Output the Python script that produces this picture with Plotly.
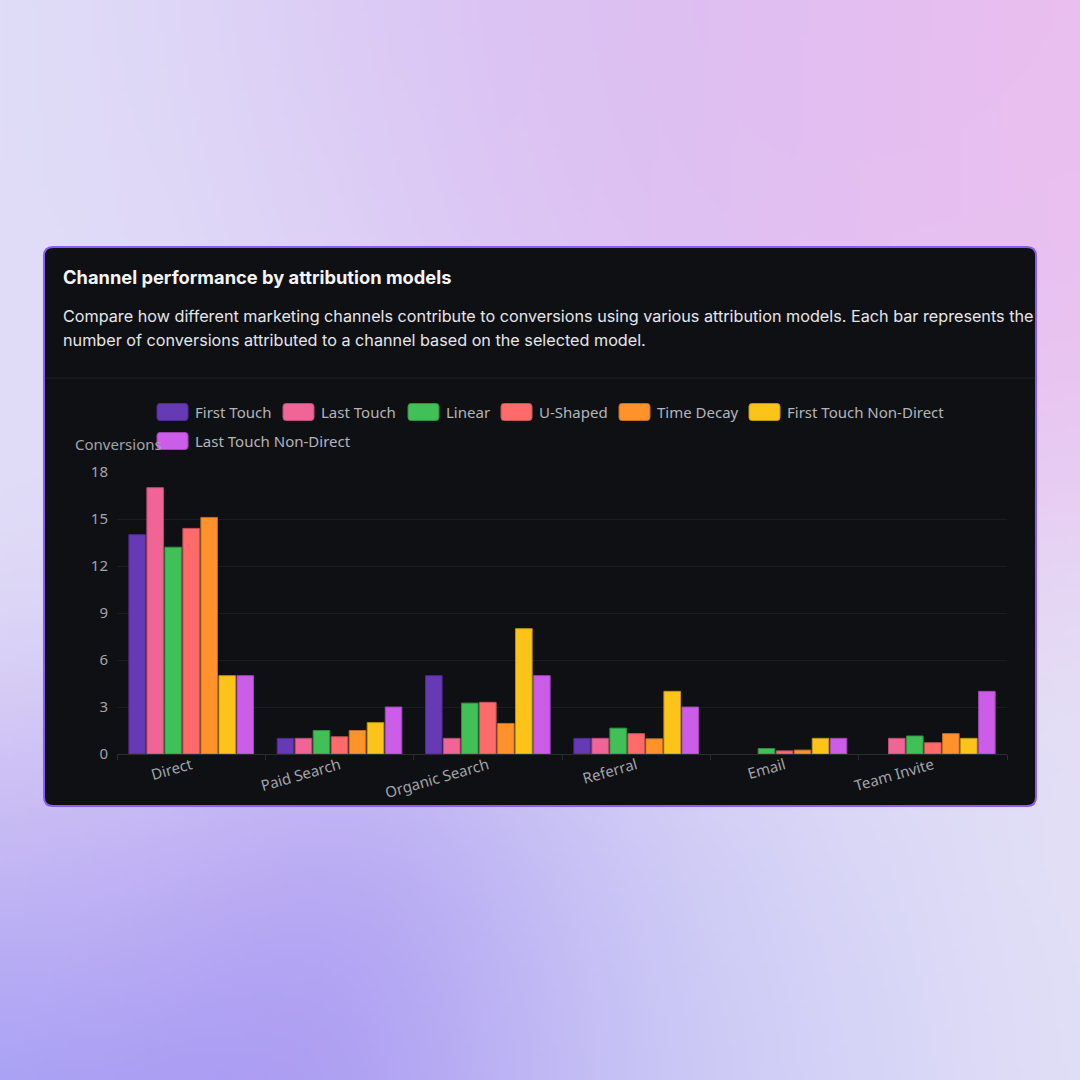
import base64, struct, zlib
import numpy as np
import plotly.graph_objects as go

# ---------------- data ----------------
channels = ["Direct", "Paid Search", "Organic Search", "Referral", "Email", "Team Invite"]
models = ["First Touch", "Last Touch", "Linear", "U-Shaped", "Time Decay",
          "First Touch Non-Direct", "Last Touch Non-Direct"]
first_touch = [14, 1, 5, 1, 0, 0]
last_touch = [17, 1, 1, 1, 0, 1]
linear = [13.2, 1.5, 3.25, 1.65, 0.35, 1.15]
u_shaped = [14.4, 1.1, 3.3, 1.3, 0.2, 0.72]
time_decay = [15.1, 1.5, 1.95, 0.97, 0.25, 1.3]
first_touch_nd = [5, 2, 8, 4, 1, 1]
last_touch_nd = [5, 3, 5, 3, 1, 4]
series = [first_touch, last_touch, linear, u_shaped, time_decay, first_touch_nd, last_touch_nd]
y_ticks = [0, 3, 6, 9, 12, 15, 18]

colors = ["#6639b5", "#f06595", "#40c057", "#ff6b6b", "#ff922b", "#fcc419", "#cc5de8"]
borders = ["#4e2a8c", "#b84c73", "#2f8f41", "#c25252", "#c26f20", "#c09512", "#9c47b1"]

W = H = 1080


def px(x):
    return x / W


def py(y):
    return 1 - y / H


def hex_rgb(c):
    return np.array([int(c[i:i + 2], 16) for i in (1, 3, 5)], float)


# ---------------- background gradient image ----------------
def make_bg(n=216):
    base = hex_rgb("#e3dcf6")
    blobs = [
        ((0, 0), "#e1e4f9", 320), ((560, -20), "#d6b8f3", 300), ((1080, 0), "#efbdee", 300),
        ((1080, 1080), "#e6e4f7", 320), ((0, 1090), "#9598f6", 190),
        ((280, 1110), "#9f86f0", 210), ((660, 1120), "#c2c2f6", 230),
        ((60, 880), "#d6c2f4", 150), ((0, 450), "#e1dcf7", 250),
    ]
    ys, xs = np.mgrid[0:n, 0:n].astype(float)
    xs = (xs + 0.5) * W / n
    ys = (ys + 0.5) * H / n
    w0 = 0.12
    acc = np.ones((n, n, 3)) * base * w0
    wsum = np.ones((n, n)) * w0
    for (cx, cy), c, s in blobs:
        w = np.exp(-((xs - cx) ** 2 + (ys - cy) ** 2) / (2 * s * s))
        acc += w[..., None] * hex_rgb(c)
        wsum += w
    img = (acc / wsum[..., None]).clip(0, 255).astype(np.uint8)
    raw = b"".join(b"\x00" + img[r].tobytes() for r in range(n))

    def chunk(t, d):
        return struct.pack(">I", len(d)) + t + d + struct.pack(">I", zlib.crc32(t + d) & 0xffffffff)

    png = (b"\x89PNG\r\n\x1a\n" + chunk(b"IHDR", struct.pack(">IIBBBBB", n, n, 8, 2, 0, 0, 0))
           + chunk(b"IDAT", zlib.compress(raw, 9)) + chunk(b"IEND", b""))
    return "data:image/png;base64," + base64.b64encode(png).decode()


fig = go.Figure()
for name, vals, c, b in zip(models, series, colors, borders):
    fig.add_trace(go.Bar(
        x=channels, y=vals, name=name, showlegend=False,
        marker=dict(color=c, line=dict(color=b, width=[1 if v > 0 else 0 for v in vals])),
    ))


# ---------------- card ----------------
def rounded_rect(x0, y0, x1, y1, r):
    return (f"M {px(x0 + r)},{py(y0)} L {px(x1 - r)},{py(y0)} "
            f"Q {px(x1)},{py(y0)} {px(x1)},{py(y0 + r)} "
            f"L {px(x1)},{py(y1 - r)} Q {px(x1)},{py(y1)} {px(x1 - r)},{py(y1)} "
            f"L {px(x0 + r)},{py(y1)} Q {px(x0)},{py(y1)} {px(x0)},{py(y1 - r)} "
            f"L {px(x0)},{py(y0 + r)} Q {px(x0)},{py(y0)} {px(x0 + r)},{py(y0)} Z")


shapes = [
    dict(type="path", xref="paper", yref="paper", layer="below",
         path=rounded_rect(44, 247, 1036, 806, 9),
         fillcolor="#0f1014", line=dict(color="#8a5cf0", width=2)),
    dict(type="line", xref="paper", yref="paper", layer="below",
         x0=px(45), x1=px(1035), y0=py(378), y1=py(378),
         line=dict(color="#1f2026", width=1)),
]

annotations = [
    dict(text="<b>Channel performance by attribution models</b>", x=px(61), y=py(277),
         xref="paper", yref="paper", xanchor="left", yanchor="middle", showarrow=False,
         font=dict(family="Inter", size=18.3, color="#f4f4f6")),
    dict(text="Compare how different marketing channels contribute to conversions using various attribution models. Each bar represents the",
         x=px(61), y=py(316), xref="paper", yref="paper", xanchor="left", yanchor="middle",
         showarrow=False, font=dict(family="Inter", size=16.2, color="#e6e6ea")),
    dict(text="number of conversions attributed to a channel based on the selected model.",
         x=px(61), y=py(340), xref="paper", yref="paper", xanchor="left", yanchor="middle",
         showarrow=False, font=dict(family="Inter", size=16.2, color="#e6e6ea")),
    dict(text="Conversions", x=px(73), y=py(444), xref="paper", yref="paper",
         xanchor="left", yanchor="middle", showarrow=False,
         font=dict(family="Noto Sans", size=15, color="#a3a4a9")),
]

# ---------------- custom legend ----------------
legend_pos = [(157, 412), (283, 412), (408, 412), (501, 412), (619, 412), (749, 412), (157, 441)]
for (lx, ly), name, c, b in zip(legend_pos, models, colors, borders):
    shapes.append(dict(type="path", xref="paper", yref="paper", layer="above",
                       path=rounded_rect(lx, ly - 8.5, lx + 31, ly + 8.5, 3),
                       fillcolor=c, line=dict(color=b, width=1)))
    annotations.append(dict(text=name, x=px(lx + 36), y=py(ly), xref="paper", yref="paper",
                            xanchor="left", yanchor="middle", showarrow=False,
                            font=dict(family="Noto Sans", size=15, color="#b4b5ba")))

fig.update_layout(
    width=W, height=H, margin=dict(l=0, r=0, t=0, b=0, pad=0, autoexpand=False),
    paper_bgcolor="#e4def6", plot_bgcolor="rgba(0,0,0,0)",
    barmode="group", bargap=0.15, bargroupgap=0.08,
    images=[dict(source=make_bg(), xref="paper", yref="paper", x=0, y=1, sizex=1, sizey=1,
                 sizing="stretch", layer="below", xanchor="left", yanchor="top")],
    shapes=shapes, annotations=annotations, showlegend=False,
    xaxis=dict(domain=[px(117), px(1007)], tickson="boundaries", ticks="outside", ticklen=5,
               tickcolor="#2c2d33", showline=True, linecolor="#2c2d33", linewidth=1,
               showgrid=False, tickangle=-16, automargin=False, ticklabelstandoff=-4,
               tickfont=dict(family="Noto Sans", size=15, color="#a3a4a9")),
    yaxis=dict(domain=[py(754), py(472)], range=[0, 18], tickvals=y_ticks,
               showgrid=True, gridcolor="#1c1d22", gridwidth=1, zeroline=False,
               showline=False, ticks="", ticklabelstandoff=8, automargin=False,
               tickfont=dict(family="Noto Sans", size=15, color="#a3a4a9")),
    font=dict(family="Noto Sans"),
)

fig.write_html("out.html")
